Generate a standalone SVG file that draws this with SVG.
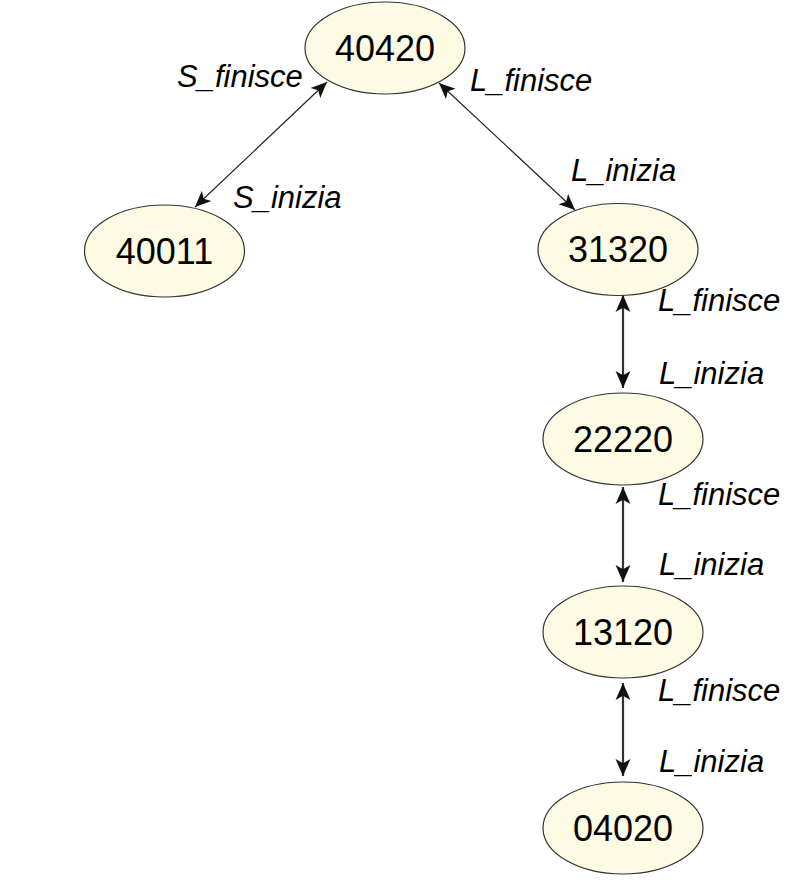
<svg xmlns="http://www.w3.org/2000/svg" width="810" height="883" viewBox="0 0 810 883">
<style>
.node ellipse{fill:#fdfbe3;stroke:#333;stroke-width:1.2}
.node text{font-family:"Liberation Sans",Arial,sans-serif;font-size:36px;fill:#000;text-anchor:middle}
.lbl{font-family:"Liberation Sans",Arial,sans-serif;font-size:31px;font-style:italic;fill:#000}
.thin{stroke:#222;stroke-width:1.2;fill:none}
.thick{stroke:#333;stroke-width:2.2;fill:none}
</style>
<defs>
<marker id="ah" viewBox="0 0 16 16" refX="16" refY="8" markerWidth="16" markerHeight="16" markerUnits="userSpaceOnUse" orient="auto-start-reverse">
<path d="M0,1 L16,8 L0,15 L4,8 z" fill="#111"/>
</marker>
<marker id="ahb" viewBox="0 0 16 16" refX="16" refY="8" markerWidth="17" markerHeight="17" markerUnits="userSpaceOnUse" orient="auto-start-reverse">
<path d="M0,1 L16,8 L0,15 L4,8 z" fill="#111"/>
</marker>
</defs>
<rect width="810" height="883" fill="#fff"/>
<g id="connectors">
<line class="thin" x1="327" y1="82" x2="195" y2="207" marker-start="url(#ah)" marker-end="url(#ah)"/>
<line class="thin" x1="439" y1="83" x2="575" y2="210" marker-start="url(#ah)" marker-end="url(#ah)"/>
<line class="thick" x1="623" y1="295" x2="623" y2="388" marker-start="url(#ahb)" marker-end="url(#ahb)"/>
<line class="thick" x1="623" y1="487" x2="623" y2="582" marker-start="url(#ahb)" marker-end="url(#ahb)"/>
<line class="thick" x1="623" y1="683" x2="623" y2="776" marker-start="url(#ahb)" marker-end="url(#ahb)"/>
<text class="lbl" x="177" y="87">S_finisce</text>
<text class="lbl" x="233" y="208">S_inizia</text>
<text class="lbl" x="470" y="91">L_finisce</text>
<text class="lbl" x="571" y="181">L_inizia</text>
<text class="lbl" x="658" y="311">L_finisce</text>
<text class="lbl" x="659" y="384">L_inizia</text>
<text class="lbl" x="658" y="505">L_finisce</text>
<text class="lbl" x="659" y="575">L_inizia</text>
<text class="lbl" x="658" y="701">L_finisce</text>
<text class="lbl" x="659" y="772">L_inizia</text>
</g>
<g id="n40420" class="node"><ellipse cx="385" cy="48" rx="80" ry="46"/><text x="385" y="61">40420</text></g>
<g id="n40011" class="node"><ellipse cx="164.5" cy="251" rx="80" ry="46"/><text x="164.5" y="264">40011</text></g>
<g id="n31320" class="node"><ellipse cx="618" cy="249.5" rx="80" ry="46"/><text x="618" y="262">31320</text></g>
<g id="n22220" class="node"><ellipse cx="623" cy="439" rx="80" ry="46"/><text x="623" y="452">22220</text></g>
<g id="n13120" class="node"><ellipse cx="623" cy="632" rx="80" ry="46"/><text x="623" y="645">13120</text></g>
<g id="n04020" class="node"><ellipse cx="623" cy="828" rx="80" ry="46"/><text x="623" y="841">04020</text></g>
</svg>
